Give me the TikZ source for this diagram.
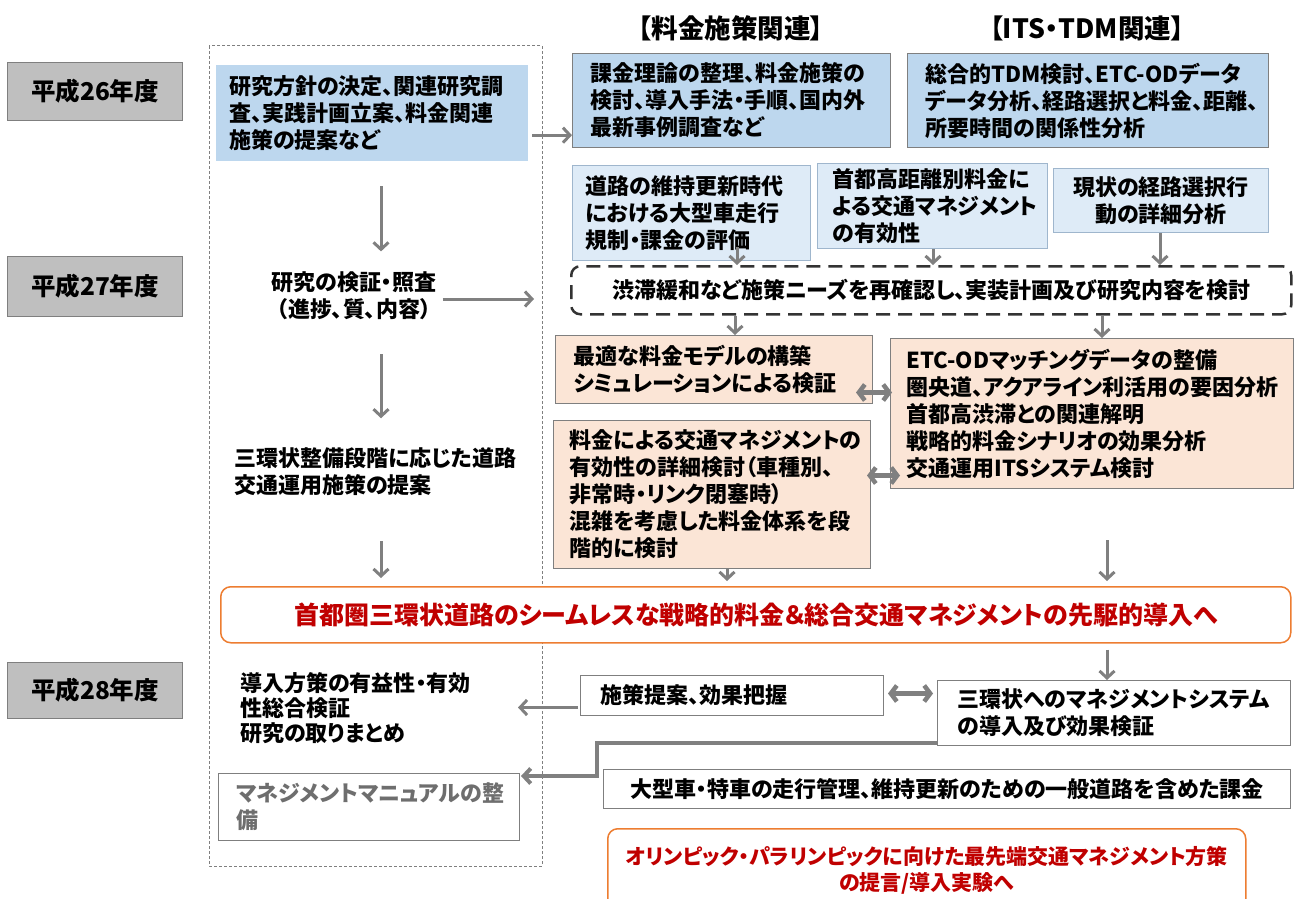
\documentclass[tikz,border=0pt]{standalone}
\usepackage{fontspec}
\setmainfont{Noto Sans CJK JP}[RawFeature=+palt]
\usetikzlibrary{arrows.meta,calc}
\definecolor{gborder}{HTML}{7F7F7F}
\definecolor{yearfill}{HTML}{BFBFBF}
\definecolor{blueA}{HTML}{BDD7EE}
\definecolor{blueL}{HTML}{DEEBF7}
\definecolor{blueB}{HTML}{9FB6CD}
\definecolor{peach}{HTML}{FBE5D6}
\definecolor{arrgray}{HTML}{808080}
\definecolor{orangeB}{HTML}{ED7D31}
\definecolor{redT}{HTML}{C00000}
\definecolor{grayT}{HTML}{6E6E6E}
\begin{document}
\begin{tikzpicture}[x=1pt,y=-1pt,
  every node/.style={font=\bfseries\fontsize{22}{27}\selectfont, inner sep=0pt, text=black},
  bx/.style={rectangle, anchor=north west, align=left},
  yearbox/.style={bx, align=center, fill=yearfill, draw=gborder, line width=1pt, minimum width=175pt, font=\bfseries\fontsize{24.5}{28}\selectfont},
  hdr/.style={font=\bfseries\fontsize{26.5}{30}\selectfont},
  bluebox/.style={bx, fill=blueA, draw=gborder, line width=1pt},
  lbluebox/.style={bx, fill=blueL, draw=blueB, line width=1pt},
  peachbox/.style={bx, fill=peach, draw=gborder, line width=1pt},
  whitebox/.style={bx, fill=white, draw=gborder, line width=1pt},
  orangebox/.style={bx, align=center, fill=white, draw=orangeB, line width=1.5pt, rounded corners=10pt, text=redT},
  arr/.style={draw=arrgray, line width=3pt, -{Straight Barb[length=7pt,width=15pt]}},
  dbl/.style={draw=arrgray, line width=4.5pt, {Straight Barb[length=6pt,width=16pt]}-{Straight Barb[length=6pt,width=16pt]}},
]
\useasboundingbox (0,0) rectangle (1294,899);

% guide coordinates
\coordinate (xL) at (381,0);
\coordinate (xD) at (737,0);
\coordinate (xE) at (933,0);
\coordinate (xF) at (1160,0);
\coordinate (xJ) at (735,0);
\coordinate (xK) at (1102,0);
\coordinate (xLb) at (727,0);
\coordinate (xKb) at (1107,0);

% outer dashed frame
\draw[gborder, line width=1pt, dash pattern=on 3pt off 2pt] (209,46) rectangle (542,866);

% year labels
\node[yearbox, minimum height=58pt] (y26) at (7,62) {平成26年度};
\node[yearbox, minimum height=60pt] (y27) at (7,256) {平成27年度};
\node[yearbox, minimum height=56pt] (y28) at (7,662) {平成28年度};

% headers
\node[hdr] (h1) at (731,28) {【料金施策関連】};
\node[hdr] (h2) at (1087,28) {【ITS・TDM関連】};

% boxes
\node[bx, fill=blueA, inner xsep=13pt, text width=286pt, minimum height=96pt] (A) at (216,65)
  {研究方針の決定、関連研究調\\査、実践計画立案、料金関連\\施策の提案など};
\node[bluebox, inner xsep=18pt, text width=282pt, minimum height=94pt] (B) at (572,53)
  {課金理論の整理、料金施策の\\検討、導入手法・手順、国内外\\最新事例調査など};
\node[bluebox, inner xsep=18pt, text width=325pt, minimum height=94pt] (C) at (907,53)
  {総合的TDM検討、ETC-ODデータ\\データ分析、経路選択と料金、距離、\\所要時間の関係性分析};

\node[lbluebox, inner xsep=13pt, text width=212pt, minimum height=95pt] (D) at (572,165)
  {道路の維持更新時代\\における大型車走行\\規制・課金の評価};
\node[lbluebox, inner xsep=15pt, text width=200pt, minimum height=85pt] (E) at (817,163)
  {首都高距離別料金に\\よる交通マネジメント\\の有効性};
\node[lbluebox, align=center, minimum width=215pt, minimum height=64pt] (F) at (1053,168)
  {現状の経路選択行\\動の詳細分析};

\node[bx, align=center, draw=black!80, line width=2.5pt, dash pattern=on 14pt off 8pt, rounded corners=9pt, minimum width=720pt, minimum height=48pt] (G) at (570,265)
  {渋滞緩和など施策ニーズを再確認し、実装計画及び研究内容を検討};

\node[align=center] (H) at (354,296) {研究の検証・照査\\（進捗、質、内容）};
\node[align=left, anchor=west] (I) at (234,472) {三環状整備段階に応じた道路\\交通運用施策の提案};

\node[peachbox, inner xsep=18pt, text width=281pt, minimum height=68pt] (J) at (555,335)
  {最適な料金モデルの構築\\シミュレーションによる検証};
\node[peachbox, inner xsep=16pt, text width=371pt, minimum height=150pt] (K) at (890,338)
  {ETC-ODマッチングデータの整備\\圏央道、アクアライン利活用の要因分析\\首都高渋滞との関連解明\\戦略的料金シナリオの効果分析\\交通運用ITSシステム検討};
\node[peachbox, inner xsep=16pt, text width=285pt, minimum height=148pt] (L) at (553,420)
  {料金による交通マネジメントの\\有効性の詳細検討（車種別、\\非常時・リンク閉塞時）\\混雑を考慮した料金体系を段\\階的に検討};

\node[orangebox, minimum width=1070pt, minimum height=56pt, font=\bfseries\fontsize{25}{28}\selectfont] (M) at (220,586)
  {首都圏三環状道路のシームレスな戦略的料金＆総合交通マネジメントの先駆的導入へ};

\node[whitebox, inner xsep=20pt, text width=313pt, minimum height=65pt] (N) at (937,680)
  {三環状へのマネジメントシステム\\の導入及び効果検証};
\node[whitebox, inner xsep=20pt, text width=263pt, minimum height=40pt] (O) at (580,675) {施策提案、効果把握};
\node[align=left, anchor=west, font=\bfseries\fontsize{22}{25}\selectfont] (P) at (240,708)
  {導入方策の有益性・有効\\性総合検証\\研究の取りまとめ};
\node[whitebox, inner xsep=18pt, text width=265pt, minimum height=67pt, text=grayT] (Q) at (218,773)
  {マネジメントマニュアルの整\\備};
\node[whitebox, align=center, minimum width=687pt, minimum height=39pt] (R) at (603,769)
  {大型車・特車の走行管理、維持更新のための一般道路を含めた課金};
\node[orangebox, minimum width=638pt, minimum height=84pt, font=\bfseries\fontsize{21}{26}\selectfont] (S) at (607,828)
  {オリンピック・パラリンピックに向けた最先端交通マネジメント方策\\の提言/導入実験へ};

% arrows
\draw[arr] ($(A.east)+(4,22)$) -- ($(A.east -| B.west)+(0,22)$);
\draw[arr] ($(A.south -| xL)+(0,25)$) -- ($(A.south -| xL)+(0,90)$);
\draw[arr] ($(H.east)+(6,3)$) -- ($(G.west |- H.east)+(-36,3)$);
\draw[arr] ($(H.south -| xL)+(0,34)$) -- ($(H.south -| xL)+(0,98)$);
\draw[arr] ($(I.south -| xL)+(0,45)$) -- ($(M.north -| xL)+(0,-8)$);

\draw[arr] ($(D.south -| xD)+(0,-14)$) -- (G.north -| xD);
\draw[arr] (E.south -| xE) -- (G.north -| xE);
\draw[arr] (F.south -| xF) -- (G.north -| xF);
\draw[arr] (G.south -| xJ) -- (J.north -| xJ);
\draw[arr] (G.south -| xK) -- (K.north -| xK);

\draw[dbl] ($(J.east)+(-17,23)$) -- ($(J.east -| K.west)+(2,23)$);
\draw[dbl] ($(L.east)+(-4,-19)$) -- ($(L.east -| K.west)+(10,-19)$);

\draw[arr] (L.south -| xLb) -- ($(M.north -| xLb)+(0,-5)$);
\draw[arr] ($(K.south -| xKb)+(0,51)$) -- ($(M.north -| xKb)+(0,-5)$);
\draw[arr] ($(M.south -| xKb)+(0,6)$) -- (N.north -| xKb);

\draw[dbl] ($(O.east)+(4,-2)$) -- ($(O.east -| N.west)+(-4,-2)$);
\draw[arr] ($(O.west)+(-2,12)$) -- ($(O.west)+(-62,12)$);
\draw[arr, line width=4pt] ($(N.south west)+(0,-3)$) -- ($(N.south west)+(-340,-3)$) |- ($(Q.north east)+(1,3)$);
\end{tikzpicture}
\end{document}
